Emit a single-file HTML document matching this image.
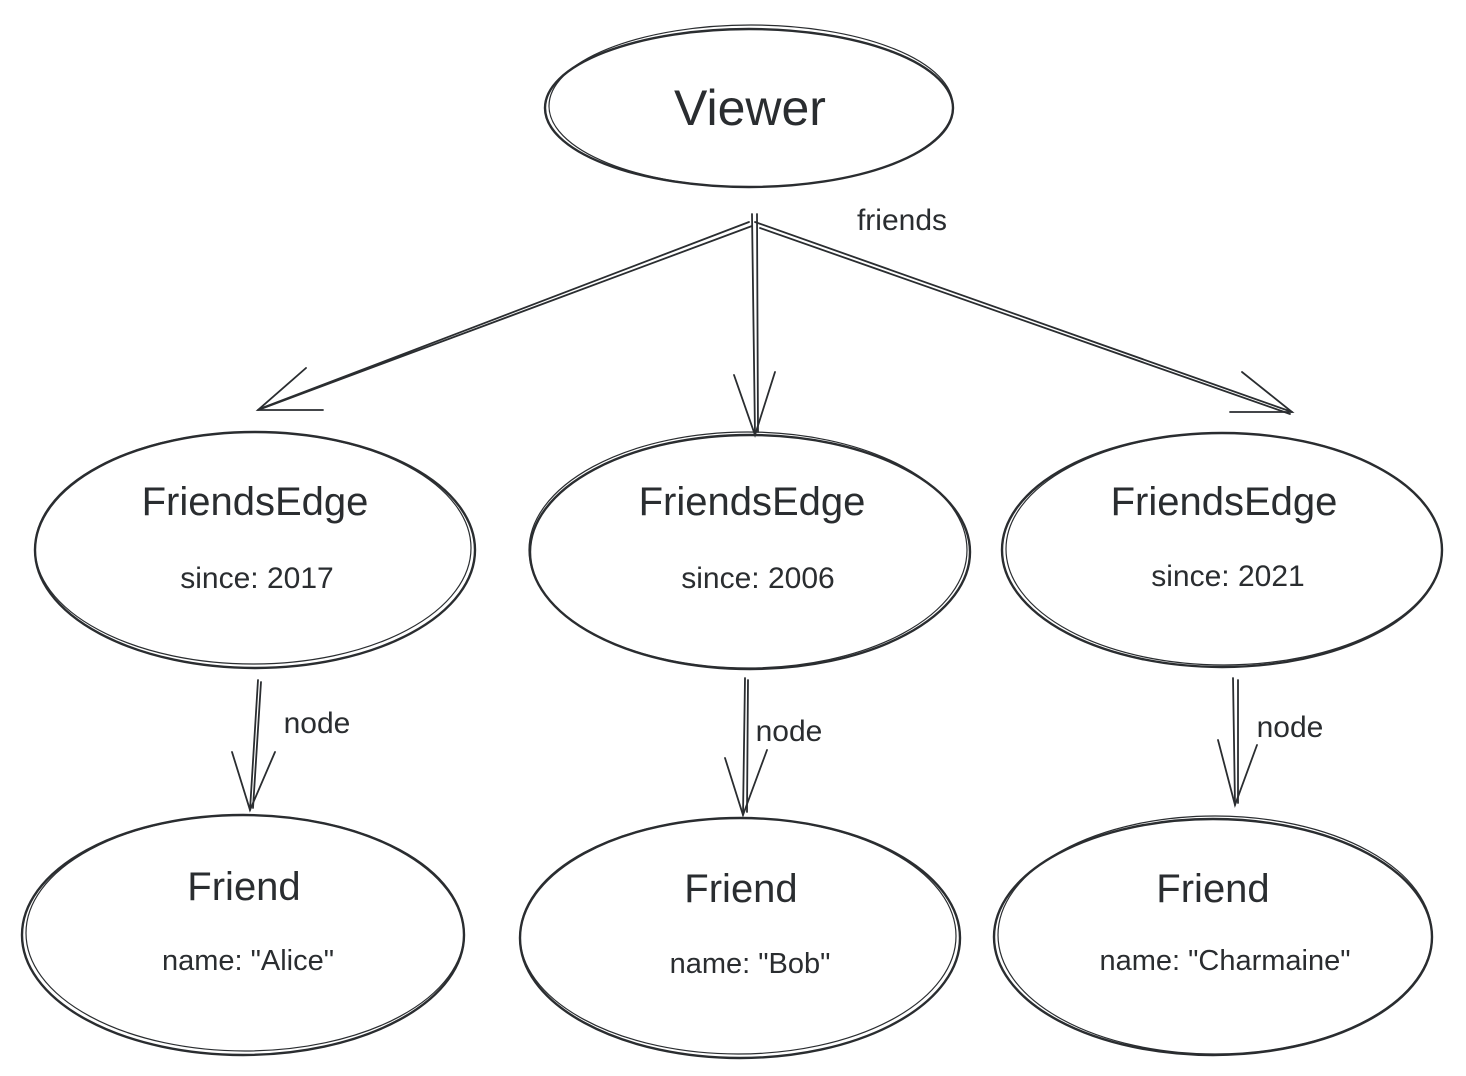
<!DOCTYPE html>
<html><head><meta charset="utf-8"><style>
html,body{margin:0;padding:0;background:#fff;}
svg{display:block;}
text{font-family:"Liberation Sans",sans-serif;fill:#2a2d30;text-anchor:middle;}
</style></head><body>
<svg width="1466" height="1076" viewBox="0 0 1466 1076">
<g fill="none" stroke="#2a2d30" stroke-width="2.4" stroke-linecap="round">
<ellipse cx="749" cy="108" rx="204" ry="79"/>
<ellipse cx="751" cy="106" rx="202" ry="81" stroke-width="1.2"/>
<ellipse cx="255" cy="550" rx="220" ry="118"/>
<ellipse cx="253" cy="548" rx="218" ry="116" stroke-width="1.2"/>
<ellipse cx="750" cy="552" rx="220" ry="117"/>
<ellipse cx="748" cy="550" rx="219" ry="118" stroke-width="1.2"/>
<ellipse cx="1222" cy="550" rx="220" ry="117"/>
<ellipse cx="1224" cy="549" rx="218" ry="116" stroke-width="1.2"/>
<ellipse cx="243" cy="935" rx="221" ry="120"/>
<ellipse cx="245" cy="933" rx="219" ry="118" stroke-width="1.2"/>
<ellipse cx="740" cy="938" rx="220" ry="120"/>
<ellipse cx="738" cy="936" rx="218" ry="118" stroke-width="1.2"/>
<ellipse cx="1213" cy="937" rx="219" ry="118"/>
<ellipse cx="1215" cy="935" rx="217" ry="119" stroke-width="1.2"/>
<!-- friends arrows -->
<path d="M752 226 L258 410 M749 222 L262 408" stroke-width="1.8"/>
<path d="M306 368 L258 410 L323 410" stroke-width="1.8"/>
<path d="M752 214 L755 435 M757 214 L758 432" stroke-width="1.8"/>
<path d="M734 375 L755 435 L775 372" stroke-width="1.8"/>
<path d="M755 222 L1292 412 M760 228 L1290 414" stroke-width="1.8"/>
<path d="M1242 372 L1292 412 L1230 412" stroke-width="1.8"/>
<!-- node arrows -->
<path d="M258 680 L250 810 M261 682 L253 808" stroke-width="1.8"/>
<path d="M232 752 L250 810 L275 752" stroke-width="1.8"/>
<path d="M745 678 L743 815 M748 680 L747 812" stroke-width="1.8"/>
<path d="M725 758 L743 815 L767 750" stroke-width="1.8"/>
<path d="M1233 678 L1235 805 M1238 680 L1238 803" stroke-width="1.8"/>
<path d="M1218 740 L1235 805 L1257 745" stroke-width="1.8"/>
</g>
<text x="750" y="125" font-size="50">Viewer</text>
<text x="902" y="230" font-size="30">friends</text>
<text x="255" y="515" font-size="40">FriendsEdge</text>
<text x="257" y="588" font-size="30">since: 2017</text>
<text x="752" y="515" font-size="40">FriendsEdge</text>
<text x="758" y="588" font-size="30">since: 2006</text>
<text x="1224" y="515" font-size="40">FriendsEdge</text>
<text x="1228" y="586" font-size="30">since: 2021</text>
<text x="317" y="733" font-size="30">node</text>
<text x="789" y="741" font-size="30">node</text>
<text x="1290" y="737" font-size="30">node</text>
<text x="244" y="900" font-size="40">Friend</text>
<text x="248" y="970" font-size="29">name: "Alice"</text>
<text x="741" y="902" font-size="40">Friend</text>
<text x="750" y="973" font-size="29">name: "Bob"</text>
<text x="1213" y="902" font-size="40">Friend</text>
<text x="1225" y="970" font-size="29">name: "Charmaine"</text>
</svg>
</body></html>
